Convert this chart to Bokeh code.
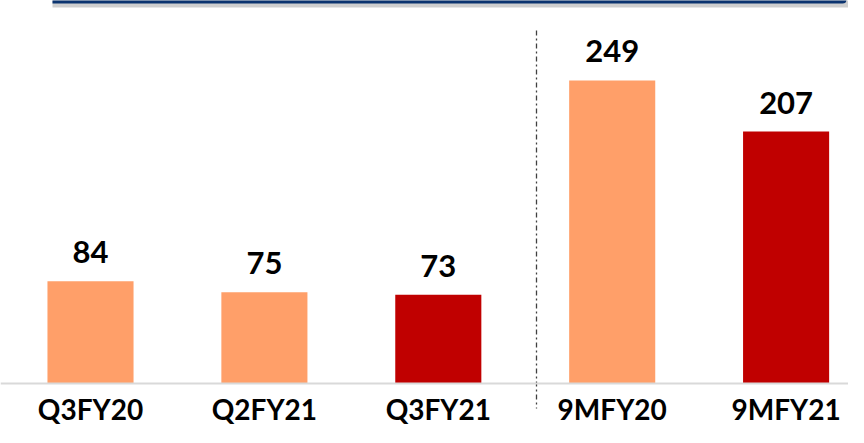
from bokeh.plotting import figure
from bokeh.models import Range1d, ColumnDataSource, Span, BoxAnnotation, LabelSet
from bokeh.core.properties import value
from bokeh.embed import file_html
from bokeh.resources import INLINE

# ---- data ----
categories = ["Q3FY20", "Q2FY21", "Q3FY21", "9MFY20", "9MFY21"]
values = [84, 75, 73, 249, 207]
bar_colors = ["#FF9F69", "#FF9F69", "#C00000", "#FF9F69", "#C00000"]

# ---- layout (pixels) ----
W, H = 848, 427
unit = 173.9          # px per category
first_center = 90     # px from left of figure
base_px = 383         # baseline px from top of figure
pxy = 1.217           # px per value unit

x_start = -first_center / unit
x_end = x_start + W / unit
y_start = -(H - base_px) / pxy
y_end = base_px / pxy


def xdata(px):
    return x_start + px / unit


def ydata(py):
    return (base_px - py) / pxy


src = ColumnDataSource(dict(
    x=list(range(len(categories))),
    cat=categories,
    val=values,
    txt=[str(v) for v in values],
    color=bar_colors,
    zero=[0] * len(values),
))

p = figure(width=W, height=H,
           x_range=Range1d(x_start, x_end), y_range=Range1d(y_start, y_end),
           output_backend="svg", toolbar_location=None, min_border=0,
           x_axis_location=None, y_axis_location=None)
p.grid.visible = False
p.outline_line_color = None
p.background_fill_color = "white"
p.border_fill_color = "white"

# banner at top
p.add_layout(BoxAnnotation(left=xdata(52), right=xdata(855), top=y_end + 5, bottom=ydata(7),
                           fill_color="#CFCFCF", fill_alpha=1, line_color=None, level="underlay",
                           border_radius=dict(top_left=0, top_right=0, bottom_right=8, bottom_left=0)))
p.add_layout(BoxAnnotation(left=xdata(52), right=xdata(846), top=y_end + 5, bottom=ydata(3),
                           fill_color="#0B3470", fill_alpha=1, line_color=None, level="underlay",
                           border_radius=dict(top_left=0, top_right=0, bottom_right=4, bottom_left=0)))

p.vbar(x="x", top="val", bottom=0, width=0.495, fill_color="color", line_color=None, source=src)

p.add_layout(Span(location=0, dimension="width", line_color="#D9D9D9", line_width=2))

divider_x = xdata(536)
p.segment(x0=[divider_x], x1=[divider_x], y0=[ydata(30)], y1=[ydata(408)],
          line_color="#404040", line_width=1.3, line_dash="5 3 2 3")

p.add_layout(LabelSet(x="x", y="val", text="txt", source=src, y_offset=18,
                      text_align="center", text_baseline="alphabetic",
                      text_font=value("Lato"), text_font_style="bold", text_font_size="31px",
                      text_color="black"))
p.add_layout(LabelSet(x="x", y="zero", text="cat", source=src, y_offset=-36,
                      text_align="center", text_baseline="alphabetic",
                      text_font=value("Lato"), text_font_style="bold", text_font_size="28px",
                      text_color="black"))

open("out.html", "w").write(file_html(p, INLINE))
